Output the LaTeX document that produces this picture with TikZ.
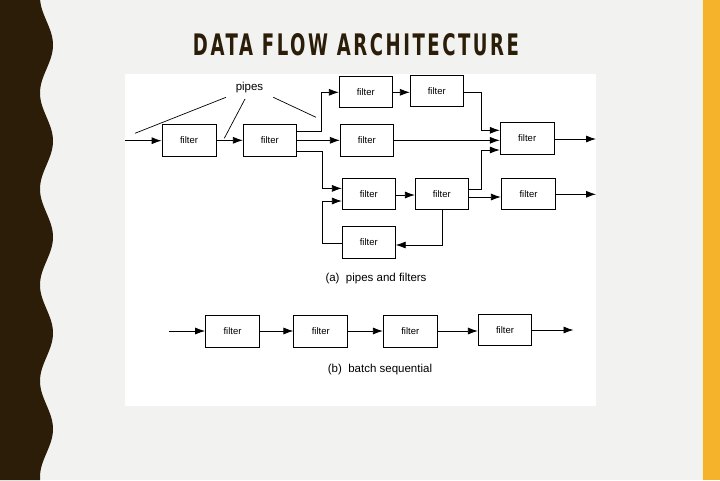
\documentclass[tikz,border=0pt]{standalone}
\usepackage{fontspec}
\usetikzlibrary{arrows.meta,calc}
\newfontfamily\arialf{Liberation Sans}
\newfontfamily\titlef{DejaVu Sans}[LetterSpace=14]
\definecolor{bgc}{HTML}{F2F2F0}
\definecolor{darkband}{HTML}{2B1D08}
\definecolor{yband}{HTML}{F4B32B}
\definecolor{creamline}{HTML}{FBEFD2}
\tikzset{
  fbox/.style={draw=black, line width=0.8pt, fill=white, inner sep=0pt,
    minimum width=53pt, minimum height=31.5pt, font=\arialf\fontsize{9.5}{11}\selectfont},
  arr/.style={draw=black, line width=0.8pt, -{Latex[length=10pt,width=7pt]}},
  pline/.style={draw=black, line width=0.7pt},
  caption/.style={font=\arialf\fontsize{11.5}{13}\selectfont, inner sep=0pt}
}
\begin{document}
\begin{tikzpicture}[x=1pt,y=-1pt]
\useasboundingbox (0,0) rectangle (720,480);
\fill[bgc] (0,0) rectangle (720,480);
% left wavy band
\fill[darkband] (0,0) -- plot[domain=0:480,samples=240,variable=\t] ({46.5+6.5*cos(3.75*(\t-45))},\t) -- (0,480) -- cycle;
% right band
\fill[creamline] (701.5,0) rectangle (703,480);
\fill[yband] (703,0) rectangle (720,480);
% title
\node[text=darkband, inner sep=0pt] (title) at (356,45) {\resizebox{326pt}{22pt}{\titlef\bfseries DATA FLOW ARCHITECTURE}};
% white panel
\fill[white] (125,73.5) rectangle (596,405.5);

% pipes and filters boxes
\node[fbox, minimum width=54pt, minimum height=32pt] (A) at (189,140.3) {filter};
\node[fbox, minimum height=32pt] (B) at (269.8,140.3) {filter};
\node[fbox] (C) at (365.8,91.7) {filter};
\node[fbox] (D) at (436.8,90.8) {filter};
\node[fbox, minimum height=32pt] (E) at (366.8,140.3) {filter};
\node[fbox, minimum width=54pt, minimum height=32pt] (F) at (527.2,138.3) {filter};
\node[fbox] (G) at (368.8,193.7) {filter};
\node[fbox] (H) at (441.8,193.7) {filter};
\node[fbox, minimum width=54.5pt] (I) at (528.5,193.7) {filter};
\node[fbox, minimum height=32pt] (J) at (368.8,242.3) {filter};

% pipes label and lines
\node[caption] (pipes) at (249.5,88) {pipes};
\coordinate (p1a) at (135,133.3); \coordinate (p1b) at (226,97.3);
\coordinate (p2a) at (224.3,138.3); \coordinate (p2b) at (245,99);
\coordinate (p3a) at (273.3,97.3); \coordinate (p3b) at (316,117.3);
\draw[pline] (p1a) -- (p1b);
\draw[pline] (p2a) -- (p2b);
\draw[pline] (p3a) -- (p3b);

% connectors
\coordinate (in) at (125,140.7);
\draw[arr] (in) -- (in -| A.west);
\draw[arr] (A.east) -- (B.west);
\draw[arr] ([yshift=9pt]B.east) -| ([xshift=-18pt,yshift=-0.6pt]C.west) -- ([yshift=-0.6pt]C.west);
\draw[arr] (B.east) -- (B.east -| E.west);
\draw[arr] ([yshift=-10.7pt]B.east) -| ([xshift=-20pt,yshift=5.3pt]G.west) -- ([yshift=5.3pt]G.west);
\draw[arr] ([yshift=-1pt]J.west) -| ([xshift=-20pt,yshift=-7.3pt]G.west) -- ([yshift=-7.3pt]G.west);
\draw[arr] ([yshift=-1.3pt]G.east) -- ([yshift=-1.3pt]H.west);
\draw[arr] ([yshift=-0.6pt]C.east) -- ([yshift=-0.6pt]C.east -| D.west);
\draw[arr] ([yshift=-1.5pt]D.east) -| ([xshift=-18pt,yshift=8pt]F.west) -- ([yshift=8pt]F.west);
\draw[arr] (E.east) -- (E.east -| F.west);
\draw[arr] ([yshift=4.7pt]H.east) -| ([xshift=-18pt,yshift=-11.7pt]F.west) -- ([yshift=-11.7pt]F.west);
\draw[arr] ([yshift=-3.3pt]H.east) -- ([yshift=-3.3pt]H.east -| I.west);
\draw[arr] ([xshift=1pt]H.south) |- ([yshift=-2.7pt]J.east);
\coordinate (Fo) at (596,139);
\draw[arr] (F.east |- Fo) -- (Fo);
\coordinate (Io) at (596,194.3);
\draw[arr] (I.east |- Io) -- (Io);

\node[caption] (capa) at (376,279) {(a)\ \ pipes and filters};

% batch sequential
\node[fbox, minimum width=54pt, minimum height=32pt] (b1) at (232.5,331) {filter};
\node[fbox, minimum width=54pt, minimum height=32pt] (b2) at (320.8,331) {filter};
\node[fbox, minimum width=54pt, minimum height=32pt] (b3) at (410.3,331) {filter};
\node[fbox, minimum width=53.5pt, minimum height=31.5pt] (b4) at (505,330) {filter};
\coordinate (bin) at (169.3,331);
\coordinate (bout) at (573.5,330);
\draw[arr] (bin) -- (b1.west);
\draw[arr] (b1.east) -- (b2.west);
\draw[arr] (b2.east) -- (b3.west);
\draw[arr] (b3.east) -- (b3.east -| b4.west);
\draw[arr] (b4.east) -- (bout);

\node[caption] (capb) at (380,370) {(b)\ \ batch sequential};
\end{tikzpicture}
\end{document}
